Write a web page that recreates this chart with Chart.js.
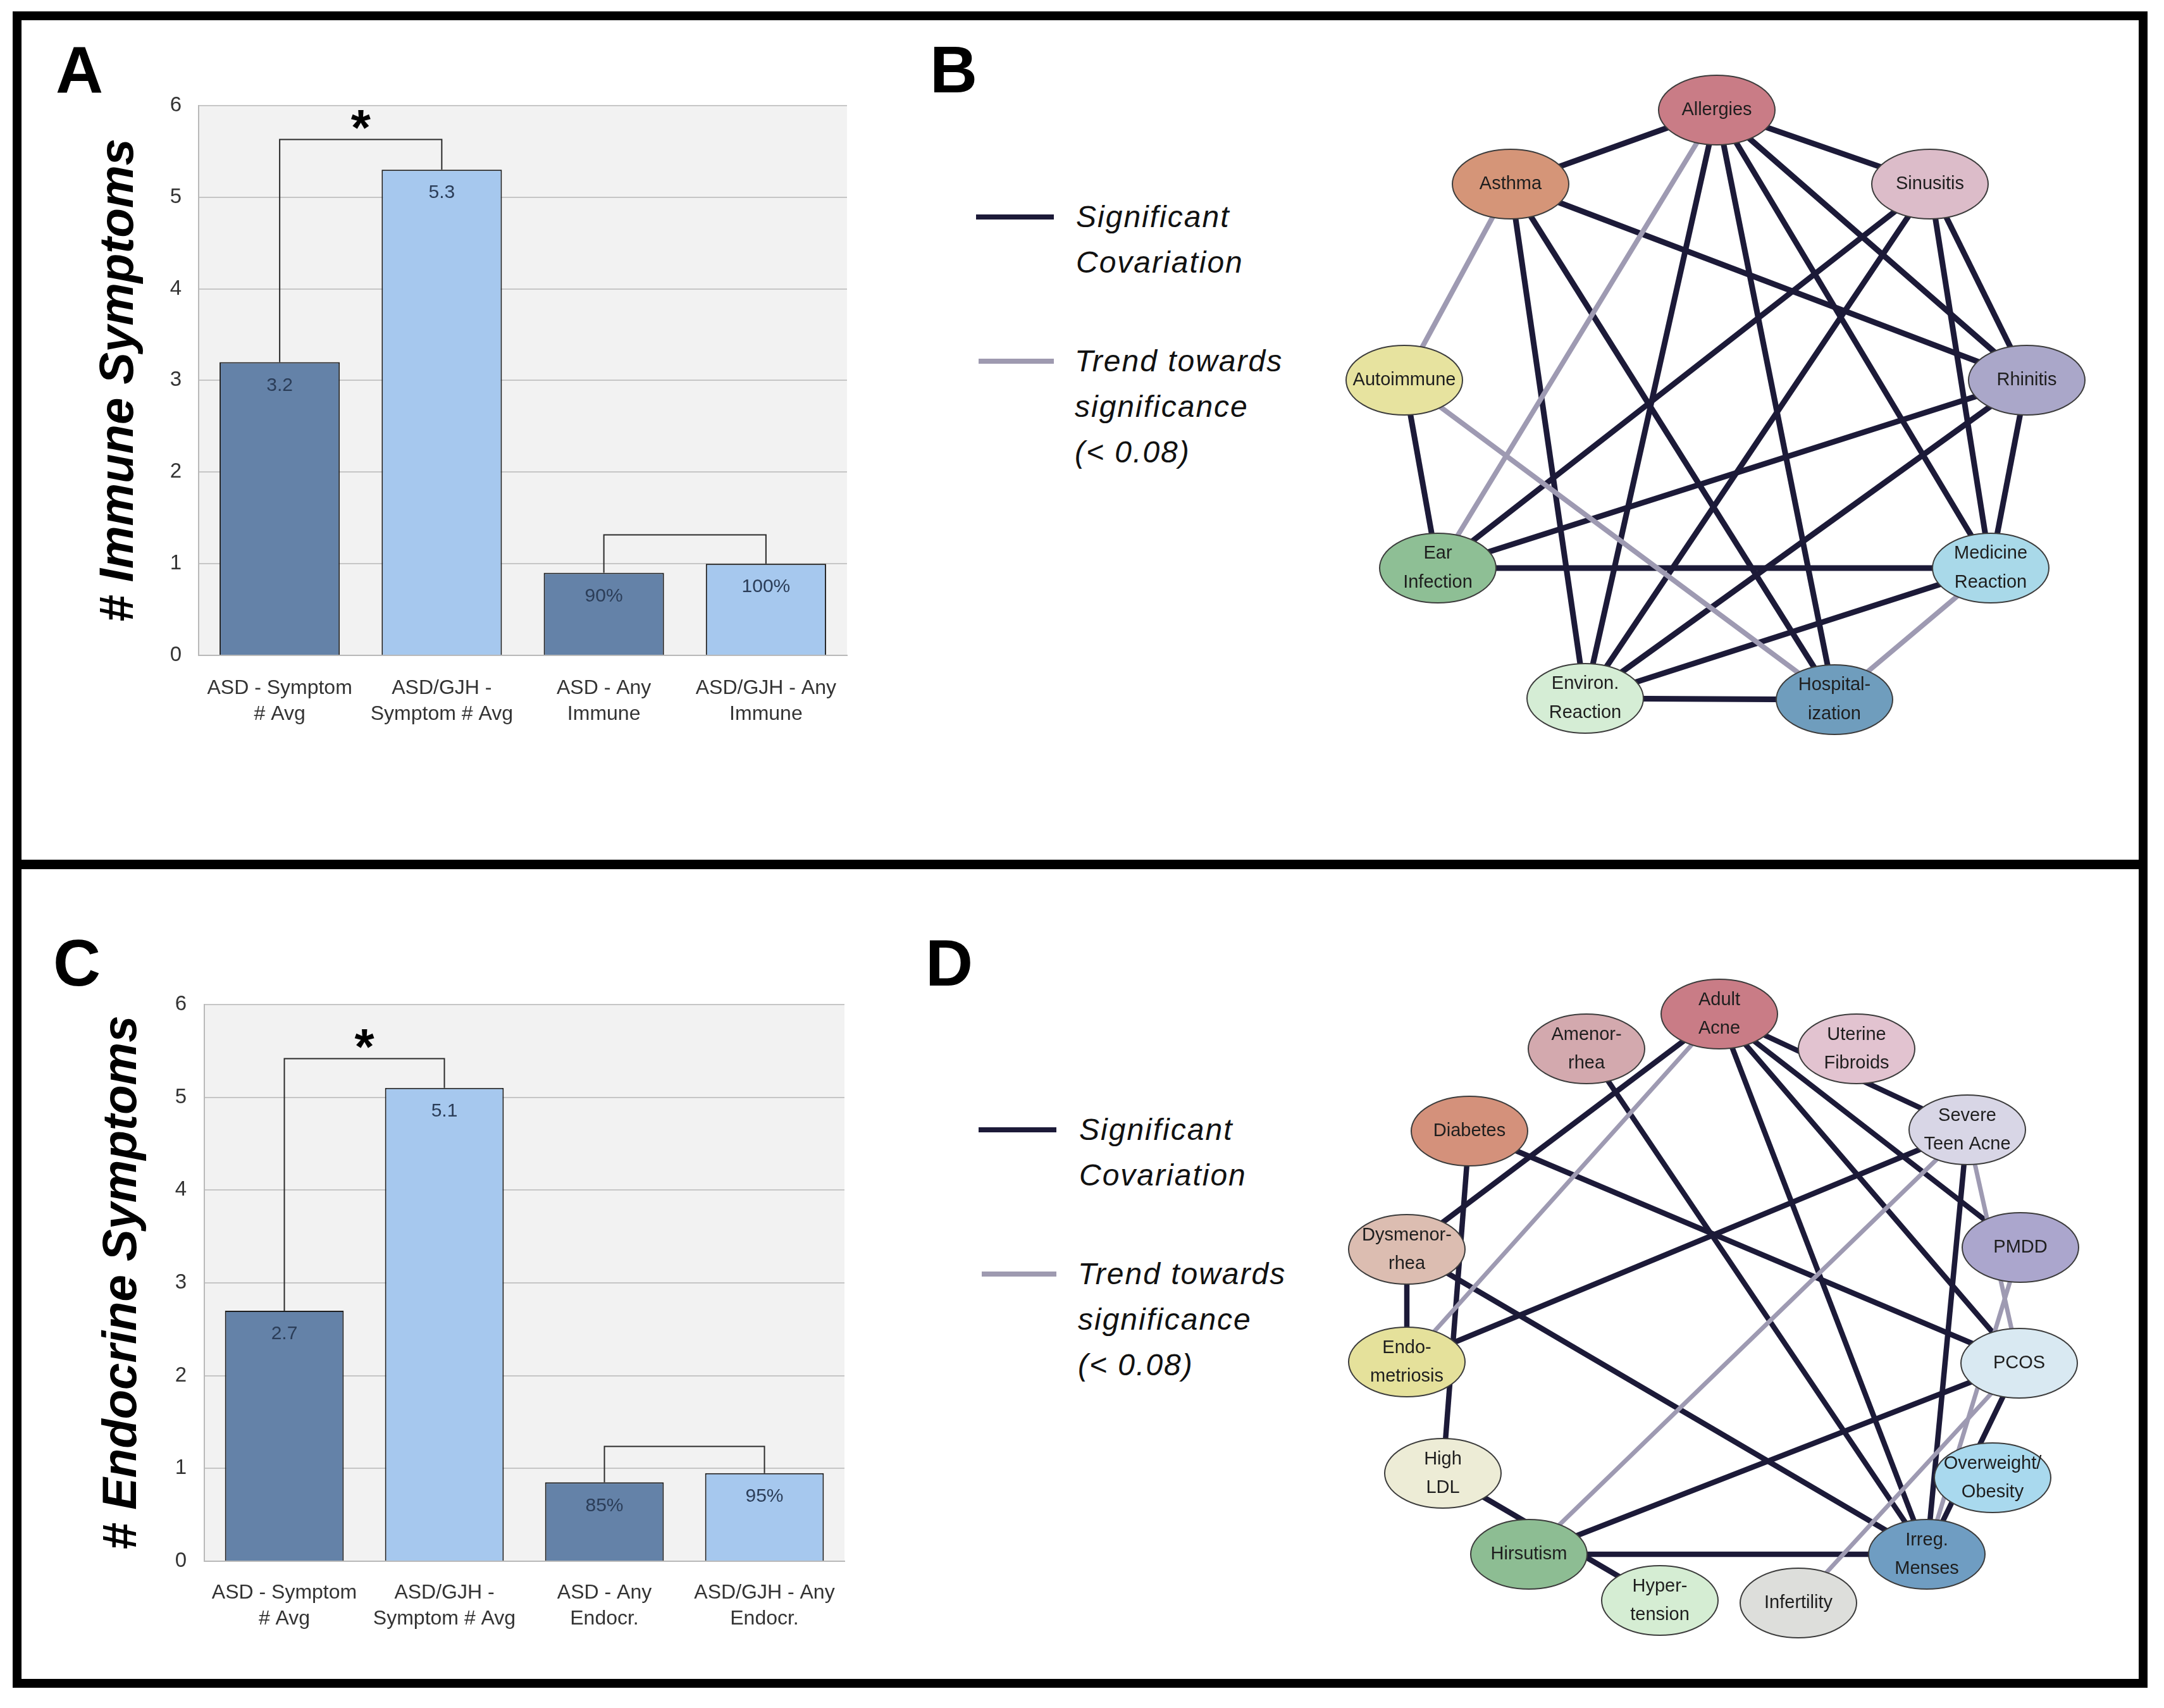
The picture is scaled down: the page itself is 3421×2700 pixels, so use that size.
<!DOCTYPE html>
<html><head><meta charset="utf-8">
<script src="https://cdn.jsdelivr.net/npm/chart.js@4"></script>
<style>
html,body{margin:0;padding:0;background:#fff;}
body{width:3421px;height:2700px;position:relative;overflow:hidden;font-family:'Liberation Sans',Arial,sans-serif;}
.frame{position:absolute;left:20px;top:18px;width:3375px;height:2650px;border:14px solid #000;box-sizing:border-box;}
.divider{position:absolute;left:20px;top:1359px;width:3375px;height:15px;background:#000;}
.letter{position:absolute;font-weight:bold;font-size:104px;line-height:1;color:#000;}
.cv{position:absolute;}
.leg-line{position:absolute;height:8px;}
.leg-text{position:absolute;font-style:italic;font-size:48px;letter-spacing:2px;line-height:72px;color:#111;white-space:nowrap;}
</style>
</head>
<body>
<div class="frame"></div>
<div class="divider"></div>
<div class="letter" style="left:88px;top:58px;">A</div>
<div class="letter" style="left:1470px;top:58px;">B</div>
<div class="letter" style="left:84px;top:1470px;">C</div>
<div class="letter" style="left:1463px;top:1470px;">D</div>

<div class="leg-line" style="left:1543px;top:339px;width:123px;background:#1c1a38;"></div>
<div class="leg-text" style="left:1701px;top:307px;">Significant<br>Covariation</div>
<div class="leg-line" style="left:1547px;top:567px;width:119px;background:#9e9ab0;"></div>
<div class="leg-text" style="left:1699px;top:535px;">Trend towards<br>significance<br>(&lt; 0.08)</div>

<div class="leg-line" style="left:1547px;top:1782px;width:123px;background:#1c1a38;"></div>
<div class="leg-text" style="left:1706px;top:1750px;">Significant<br>Covariation</div>
<div class="leg-line" style="left:1552px;top:2010px;width:118px;background:#9e9ab0;"></div>
<div class="leg-text" style="left:1704px;top:1978px;">Trend towards<br>significance<br>(&lt; 0.08)</div>

<canvas id="cA" class="cv" width="1260" height="1060" style="left:100px;top:120px;width:1260px;height:1060px;"></canvas>
<canvas id="cC" class="cv" width="1260" height="1060" style="left:100px;top:1540px;width:1260px;height:1060px;"></canvas>
<canvas id="cB" class="cv" width="1300" height="1150" style="left:2050px;top:60px;width:1300px;height:1150px;"></canvas>
<canvas id="cD" class="cv" width="1300" height="1150" style="left:2050px;top:1490px;width:1300px;height:1150px;"></canvas>

<script>
// ---------------- DATA ----------------
const immuneCategories = [["ASD - Symptom", "# Avg"], ["ASD/GJH -", "Symptom # Avg"], ["ASD - Any", "Immune"], ["ASD/GJH - Any", "Immune"]];
const immuneValues = [3.2, 5.3, 0.9, 1.0];
const immuneValueLabels = ["3.2", "5.3", "90%", "100%"];
const immuneBracketFrom = [0, 2];
const immuneBracketTo = [1, 3];
const immuneBracketLevel = [5.63, 1.32];
const immuneBracketMark = ["*", ""];

const endoCategories = [["ASD - Symptom", "# Avg"], ["ASD/GJH -", "Symptom # Avg"], ["ASD - Any", "Endocr."], ["ASD/GJH - Any", "Endocr."]];
const endoValues = [2.7, 5.1, 0.85, 0.95];
const endoValueLabels = ["2.7", "5.1", "85%", "95%"];
const endoBracketFrom = [0, 2];
const endoBracketTo = [1, 3];
const endoBracketLevel = [5.42, 1.24];
const endoBracketMark = ["*", ""];

const yAxisMin = 0, yAxisMax = 6, yAxisStep = 1;

// Network B (immune) — node labels and layout coordinates
const immuneNodes = ["Allergies", "Asthma", "Sinusitis", "Autoimmune", "Rhinitis", ["Ear", "Infection"], ["Medicine", "Reaction"], ["Environ.", "Reaction"], ["Hospital-", "ization"]];
const immuneNodeX = [664, 338, 1001, 170, 1154, 223, 1097, 456, 850];
const immuneNodeY = [114, 231, 231, 541, 541, 838, 838, 1044, 1046];
const immuneSignificant = [[0,1],[0,2],[0,7],[0,8],[0,6],[0,4],[1,7],[1,8],[1,4],[2,5],[2,7],[2,6],[2,4],[3,5],[4,5],[4,7],[4,6],[5,6],[6,7],[7,8]];
const immuneTrend = [[0,5],[1,3],[3,8],[6,8]];

// Network D (endocrine)
const endoNodes = [["Adult", "Acne"], ["Amenor-", "rhea"], ["Uterine", "Fibroids"], "Diabetes", ["Severe", "Teen Acne"], ["Dysmenor-", "rhea"], "PMDD", ["Endo-", "metriosis"], "PCOS", ["High", "LDL"], ["Overweight/", "Obesity"], "Hirsutism", ["Irreg.", "Menses"], ["Hyper-", "tension"], "Infertility"];
const endoNodeX = [668, 458, 885, 273, 1060, 174, 1144, 174, 1142, 231, 1100, 367, 996, 574, 793];
const endoNodeY = [113, 168, 168, 298, 296, 485, 482, 663, 665, 839, 846, 967, 967, 1040, 1044];
const endoSignificant = [[0,5],[0,12],[0,8],[0,4],[0,6],[1,12],[3,9],[3,8],[5,7],[5,12],[7,4],[4,12],[8,11],[8,12],[9,13],[11,12]];
const endoTrend = [[0,7],[4,11],[4,8],[6,12],[8,14]];

// ---------------- STYLES ----------------
const FONT = "'Liberation Sans', Arial, sans-serif";
Chart.defaults.font.family = FONT;
const DARK_BAR = '#6482a8', LIGHT_BAR = '#a6c8ee';
const EDGE_DARK = '#1c1a38', EDGE_GRAY = '#9e9ab2';
const immuneNodeColors = ['#c97c86','#d59578','#dcbcc9','#e7e39f','#aaa7c9','#8ebf95','#a9d9e9','#d5edd5','#6f9dbd'];
const endoNodeColors = ['#c97c86','#d3a9ae','#e2c3d0','#d4917b','#d8d6e6','#dcbdb1','#aba6cd','#e5e19b','#d9e9f2','#edecd6','#a9d9ee','#8dbd93','#6f9dc2','#d5edd3','#dddedb'];

// ---------------- PLUGINS ----------------
const plotBg = {
  id: 'plotBg',
  beforeDraw(chart, args, opts) {
    if (!opts.color) return;
    const a = chart.chartArea, ctx = chart.ctx;
    ctx.save(); ctx.fillStyle = opts.color;
    ctx.fillRect(a.left, a.top, a.right - a.left, a.bottom - a.top);
    ctx.restore();
  }
};

const barExtras = {
  id: 'barExtras',
  afterDatasetsDraw(chart, args, opts) {
    if (!opts.labels) return;
    const ctx = chart.ctx, meta = chart.getDatasetMeta(0), ys = chart.scales.y;
    ctx.save();
    ctx.font = '30px ' + FONT; ctx.fillStyle = '#2b3d58';
    ctx.textAlign = 'center'; ctx.textBaseline = 'middle';
    meta.data.forEach((bar, i) => ctx.fillText(opts.labels[i], bar.x, bar.y + 37));
    ctx.strokeStyle = '#2a2a2a'; ctx.lineWidth = 2;
    opts.from.forEach((f, k) => {
      const a = meta.data[f], c = meta.data[opts.to[k]];
      const yTop = Math.round(ys.getPixelForValue(opts.level[k])) + 0.5;
      ctx.beginPath();
      ctx.moveTo(a.x, a.y); ctx.lineTo(a.x, yTop); ctx.lineTo(c.x, yTop); ctx.lineTo(c.x, c.y);
      ctx.stroke();
      if (opts.mark[k]) {
        ctx.font = 'bold 80px ' + FONT; ctx.fillStyle = '#000'; ctx.textBaseline = 'alphabetic';
        ctx.fillText(opts.mark[k], (a.x + c.x) / 2, yTop + 8);
      }
    });
    ctx.restore();
  }
};

const nodeDraw = {
  id: 'nodeDraw',
  afterDatasetsDraw(chart, args, opts) {
    if (!opts.labels) return;
    const ctx = chart.ctx;
    const meta = chart.getDatasetMeta(chart.data.datasets.length - 1);
    ctx.save();
    meta.data.forEach((pt, i) => {
      ctx.beginPath();
      ctx.ellipse(pt.x, pt.y, opts.rx, opts.ry, 0, 0, Math.PI * 2);
      ctx.fillStyle = opts.colors[i]; ctx.fill();
      ctx.lineWidth = 2; ctx.strokeStyle = '#3c3c3c'; ctx.stroke();
      const lines = [].concat(opts.labels[i]);
      ctx.fillStyle = '#1e1e1e'; ctx.font = '29px ' + FONT;
      ctx.textAlign = 'center'; ctx.textBaseline = 'middle';
      lines.forEach((t, k) => ctx.fillText(t, pt.x, pt.y + (k - (lines.length - 1) / 2) * opts.lineGap));
    });
    ctx.restore();
  }
};

Chart.register(plotBg, barExtras, nodeDraw);

// ---------------- BAR CHARTS ----------------
function barChart(id, cats, vals, labels, bFrom, bTo, bLevel, bMark, title, lay) {
  return new Chart(document.getElementById(id), {
    type: 'bar',
    data: {
      labels: cats,
      datasets: [{
        data: vals,
        backgroundColor: vals.map((v, i) => i % 2 === 0 ? DARK_BAR : LIGHT_BAR),
        borderColor: '#1e1e1e', borderWidth: 2, borderSkipped: 'bottom',
        barPercentage: 0.742, categoryPercentage: 1.0
      }]
    },
    options: {
      responsive: false, animation: false, devicePixelRatio: 1, events: [],
      layout: { padding: { top: lay.padTop, right: lay.padRight, left: 0, bottom: 0 } },
      plugins: {
        legend: { display: false }, tooltip: { enabled: false },
        plotBg: { color: '#f2f2f2' },
        barExtras: { labels: labels, from: bFrom, to: bTo, level: bLevel, mark: bMark }
      },
      scales: {
        x: {
          grid: { display: false },
          border: { display: true, color: '#b9b9b9', width: 2 },
          ticks: { font: { size: 32, lineHeight: 1.3 }, color: '#333', padding: lay.xPad, maxRotation: 0, autoSkip: false },
          afterFit: s => { s.height = lay.xHeight; }
        },
        y: {
          min: yAxisMin, max: yAxisMax,
          grid: { color: '#c6c6c6', lineWidth: 2, drawTicks: false },
          border: { display: true, color: '#b9b9b9', width: 2 },
          ticks: { stepSize: yAxisStep, font: { size: 33 }, color: '#333', padding: lay.yPad },
          title: { display: true, text: title, color: '#000', font: { size: 76, weight: 'bold', style: 'italic' }, padding: { top: lay.titlePad, bottom: 0 } },
          afterFit: s => { s.width = lay.yWidth; }
        }
      }
    }
  });
}

barChart('cA', immuneCategories, immuneValues, immuneValueLabels, immuneBracketFrom, immuneBracketTo, immuneBracketLevel, immuneBracketMark,
  '# Immune Symptoms', { padTop: 43, padRight: 21, xHeight: 144, yWidth: 214, xPad: 23, yPad: 27, titlePad: 43 });
barChart('cC', endoCategories, endoValues, endoValueLabels, endoBracketFrom, endoBracketTo, endoBracketLevel, endoBracketMark,
  '# Endocrine Symptoms', { padTop: 41, padRight: 25, xHeight: 132, yWidth: 223, xPad: 21, yPad: 28, titlePad: 48 });

// ---------------- NETWORKS ----------------
function network(id, names, nx, ny, sig, trend, colors, width, grayWidth, lineGap) {
  const pts = nx.map((x, i) => ({ x: x, y: ny[i] }));
  const edge = (pair, color, w) => ({
    data: [pts[pair[0]], pts[pair[1]]], showLine: true, borderColor: color, borderWidth: w,
    pointRadius: 0, pointHoverRadius: 0, fill: false, borderCapStyle: 'butt'
  });
  const datasets = [
    ...trend.map(p => edge(p, EDGE_GRAY, grayWidth)),
    ...sig.map(p => edge(p, EDGE_DARK, width)),
    { data: pts, pointRadius: 0, pointHoverRadius: 0, showLine: false }
  ];
  return new Chart(document.getElementById(id), {
    type: 'scatter',
    data: { datasets: datasets },
    options: {
      responsive: false, animation: false, devicePixelRatio: 1, events: [],
      layout: { padding: 0, autoPadding: false },
      plugins: {
        legend: { display: false }, tooltip: { enabled: false },
        nodeDraw: { labels: names, colors: colors, rx: 92, ry: 55, lineGap: lineGap }
      },
      scales: {
        x: { type: 'linear', display: false, min: 0, max: 1300 },
        y: { type: 'linear', display: false, min: 0, max: 1150, reverse: true }
      }
    }
  });
}

network('cB', immuneNodes, immuneNodeX, immuneNodeY, immuneSignificant, immuneTrend, immuneNodeColors, 9, 8, 46);
network('cD', endoNodes, endoNodeX, endoNodeY, endoSignificant, endoTrend, endoNodeColors, 8.5, 7, 45);
</script>
</body></html>
